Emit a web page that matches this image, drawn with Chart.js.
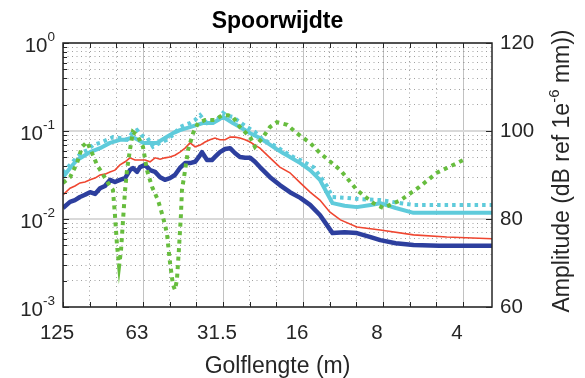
<!DOCTYPE html>
<html>
<head>
<meta charset="utf-8">
<script src="https://cdn.jsdelivr.net/npm/chart.js@4/dist/chart.umd.min.js"></script>
<style>
  html, body { margin: 0; padding: 0; background: #fff; }
</style>
</head>
<body>
<canvas id="chart" width="585" height="378"></canvas>
<script>
// golflengte (m) and amplitude (dB ref 1e-6 mm) per line
const blueLambda = [125, 117.6, 112.7, 107.9, 103.3, 98.9, 94.7, 90.7, 86.9, 83.2, 79.7, 76.3, 73.0, 70.0, 68.2, 65.8, 64.1, 61.4, 58.8, 56.3, 53.9, 51.7, 49.5, 47.4, 45.4, 43.4, 41.6, 39.8, 38.1, 37.5, 35.9, 34.4, 33.5, 32.1, 30.7, 29.4, 28.2, 27.0, 25.8, 24.7, 23.7, 22.7, 20.8, 19.1, 17.5, 16.0, 14.7, 13.5, 12.7, 12.1, 10.9, 9.8, 8.7, 8.0, 7.0, 6.0, 4.8, 3.04];
const blueDb = [82.5, 83.9, 84.3, 85.0, 85.5, 86.1, 85.7, 87.0, 87.5, 88.9, 88.4, 88.9, 89.3, 91.1, 91.6, 90.7, 91.8, 92.3, 91.1, 90.7, 89.5, 88.9, 89.3, 90.0, 91.6, 92.7, 92.7, 93.0, 94.5, 95.2, 93.4, 93.4, 94.1, 95.2, 95.9, 96.1, 95.0, 94.1, 93.9, 93.9, 93.0, 91.8, 89.5, 87.7, 86.1, 84.8, 83.2, 80.9, 78.6, 76.8, 77.0, 76.8, 75.9, 75.2, 74.5, 74.1, 73.9, 73.9];

const redLambda = [125, 117.6, 112.7, 107.9, 103.3, 98.9, 94.7, 90.7, 86.9, 83.2, 79.7, 76.3, 73.0, 70.0, 67.0, 64.1, 61.4, 58.8, 56.3, 53.9, 51.7, 49.5, 47.4, 45.4, 43.4, 41.6, 39.8, 38.1, 36.5, 35.0, 33.5, 32.1, 30.7, 29.4, 28.2, 27.0, 25.8, 24.7, 23.7, 22.7, 20.8, 19.1, 17.5, 16.0, 14.7, 13.5, 12.4, 11.3, 9.8, 8.0, 6.0, 4.5, 3.04];
const redDb = [85.5, 87.0, 87.5, 88.2, 88.4, 88.9, 89.3, 90.0, 90.2, 90.7, 91.1, 92.3, 93.0, 93.9, 93.4, 93.4, 93.4, 93.0, 93.9, 93.6, 93.9, 94.1, 94.5, 95.2, 96.1, 97.3, 96.4, 96.8, 97.5, 98.0, 98.4, 98.0, 98.0, 98.6, 98.6, 98.4, 98.0, 97.5, 96.8, 96.1, 93.9, 91.8, 90.5, 88.2, 86.1, 84.3, 81.6, 79.8, 78.2, 77.5, 76.4, 75.9, 75.5];

const cyanLambda = [125, 117.6, 110.7, 103.3, 98.9, 90.7, 83.2, 76.3, 73.0, 68.2, 65.3, 62.5, 58.8, 55.4, 51.7, 48.2, 45.4, 41.6, 39.1, 37.2, 34.1, 32.6, 31.25, 29.9, 28.7, 27.0, 24.7, 22.7, 21.3, 19.9, 18.6, 17.5, 16.0, 14.7, 13.5, 12.7, 12.1, 10.9, 9.8, 8.7, 8.0, 7.0, 6.0, 4.8, 3.04];
const cyanDb = [89.5, 91.6, 93.4, 94.5, 95.2, 96.1, 97.3, 98.0, 98.0, 98.6, 98.0, 97.3, 97.3, 97.3, 98.4, 99.5, 100.2, 100.9, 101.4, 101.8, 101.8, 102.5, 103.2, 102.5, 101.8, 100.9, 99.5, 98.4, 97.3, 96.1, 95.0, 94.1, 92.7, 91.1, 88.9, 85.9, 83.6, 83.0, 82.7, 83.2, 83.6, 82.5, 81.4, 81.4, 81.4];

const cyanDotLambda = [125, 117.6, 110.7, 105.1, 100.7, 96.4, 90.7, 85.4, 81.1, 76.3, 71.8, 68.7, 65.8, 63.0, 60.4, 57.3, 53.9, 50.8, 48.2, 45.4, 43.4, 41.6, 39.8, 38.1, 36.8, 35.9, 34.4, 32.9, 31.25, 29.9, 28.7, 27.0, 25.4, 23.7, 22.7, 21.2, 19.6, 18.3, 17.0, 16.0, 14.3, 13.5, 12.7, 12.1, 10.7, 9.5, 8.0, 6.7, 6.0, 4.8, 3.04];
const cyanDotDb = [90.5, 92.3, 94.1, 95.2, 95.7, 96.8, 97.3, 98.0, 98.6, 98.4, 98.0, 99.5, 100.2, 98.9, 98.6, 96.4, 97.3, 98.0, 99.1, 100.9, 101.4, 101.8, 102.5, 103.6, 102.5, 101.8, 102.3, 102.5, 104.1, 103.4, 103.2, 102.0, 100.9, 99.8, 98.6, 97.5, 96.4, 95.2, 94.1, 93.4, 91.8, 89.8, 87.5, 85.0, 84.8, 84.5, 84.3, 83.6, 83.2, 83.2, 83.2];

const greenLambda = [125, 117.6, 110.7, 106.0, 101.5, 97.2, 93.1, 89.2, 84.6, 81.1, 79.7, 78.3, 76.9, 75.6, 74.3, 73.0, 71.8, 70.0, 68.2, 65.8, 62.5, 60.4, 57.8, 54.9, 52.6, 50.8, 49.5, 48.2, 47.4, 46.6, 45.8, 45.0, 44.6, 43.4, 42.3, 40.5, 38.8, 36.5, 33.5, 31.5, 29.9, 28.7, 27.0, 24.7, 23.7, 22.1, 20.8, 19.6, 17.9, 16.5, 14.7, 13.5, 11.3, 9.8, 8.5, 7.8, 6.7, 5.7, 4.9, 3.9];
const greenDb = [88.2, 89.5, 92.7, 96.4, 97.5, 95.0, 92.3, 90.5, 88.2, 86.6, 80.9, 74.1, 69.3, 73.0, 79.8, 86.6, 91.1, 95.7, 99.8, 99.1, 96.4, 91.1, 87.3, 84.3, 80.5, 76.8, 70.2, 65.0, 63.9, 66.1, 73.0, 80.9, 86.6, 91.1, 95.7, 99.5, 101.8, 102.5, 102.5, 103.6, 103.6, 103.2, 100.9, 98.6, 96.4, 98.6, 100.9, 102.0, 101.4, 99.5, 97.3, 95.0, 91.1, 86.6, 83.6, 82.5, 84.3, 87.3, 90.5, 93.4];

// axis ticks
const xMajorTicks = [125, 62.5, 31.25, 15.625, 7.8125, 3.90625];
const xTickLabels = ['125', '63', '31.5', '16', '8', '4'];
const xMinorTicks = [99.21, 78.75, 49.61, 39.37, 24.8, 19.69, 12.4, 9.84, 6.2, 4.92];
const yDecades = [1, 0.1, 0.01, 0.001];
const yExponents = ['0', '-1', '-2', '-3'];
const yMinorTicks = [0.002, 0.003, 0.004, 0.005, 0.006, 0.007, 0.008, 0.009,
                     0.02, 0.03, 0.04, 0.05, 0.06, 0.07, 0.08, 0.09,
                     0.2, 0.3, 0.4, 0.5, 0.6, 0.7, 0.8, 0.9];
const dbTicks = [60, 80, 100, 120];

const FONT = "'Liberation Sans', Arial, Helvetica, sans-serif";
const TEXT = '#262626';
const MINOR_GRID = 'rgba(30,30,30,0.42)';

Chart.defaults.font.family = FONT;
Chart.defaults.color = TEXT;

function toPoints(lambda, db) {
    let pts = [];
    for (let i = 0; i < lambda.length; i++) {
        pts.push({ x: lambda[i], y: db[i] });
    }
    return pts;
}

// MATLAB look: box, inward ticks, superscript labels, right label reading upward
const axesDecor = {
    id: 'axesDecor',
    afterDraw(chart) {
        const { ctx, chartArea: a, scales } = chart;
        ctx.save();
        ctx.strokeStyle = TEXT;
        ctx.lineWidth = 1;
        ctx.beginPath();
        xMajorTicks.concat(xMinorTicks).forEach(v => {
            const px = Math.round(scales.x.getPixelForValue(v)) + 0.5;
            ctx.moveTo(px, a.bottom); ctx.lineTo(px, a.bottom - 5);
            ctx.moveTo(px, a.top); ctx.lineTo(px, a.top + 5);
        });
        yDecades.forEach(v => {
            const py = Math.round(scales.y.getPixelForValue(v)) + 0.5;
            ctx.moveTo(a.left, py); ctx.lineTo(a.left + 6, py);
        });
        yMinorTicks.forEach(v => {
            const py = Math.round(scales.y.getPixelForValue(v)) + 0.5;
            ctx.moveTo(a.left, py); ctx.lineTo(a.left + 4, py);
        });
        dbTicks.forEach(v => {
            const py = Math.round(scales.yR.getPixelForValue(v)) + 0.5;
            ctx.moveTo(a.right, py); ctx.lineTo(a.right - 6, py);
        });
        ctx.stroke();

        ctx.lineWidth = 1.5;
        ctx.strokeRect(a.left, a.top, a.right - a.left, a.bottom - a.top);

        // 10^n labels
        ctx.fillStyle = TEXT;
        ctx.textBaseline = 'middle';
        ctx.textAlign = 'left';
        const baseFont = '20.5px ' + FONT;
        const expFont = '13.5px ' + FONT;
        const xEnd = a.left - 8;
        yDecades.forEach((v, i) => {
            const py = scales.y.getPixelForValue(v);
            ctx.font = expFont;
            const ew = ctx.measureText(yExponents[i]).width;
            ctx.font = baseFont;
            const bw = ctx.measureText('10').width;
            ctx.fillText('10', xEnd - ew - bw, py + 3);
            ctx.font = expFont;
            ctx.fillText(yExponents[i], xEnd - ew, py - 6);
        });

        // right axis title
        const parts = [
            { t: 'Amplitude (dB ref 1e', f: '23px ' + FONT, dy: 0 },
            { t: '-6', f: '15px ' + FONT, dy: -8 },
            { t: ' mm))', f: '23px ' + FONT, dy: 0 }
        ];
        let total = 0;
        parts.forEach(p => { ctx.font = p.f; p.w = ctx.measureText(p.t).width; total += p.w; });
        ctx.translate(563, (a.top + a.bottom) / 2 - 4);
        ctx.rotate(-Math.PI / 2);
        let cx = -total / 2;
        parts.forEach(p => {
            ctx.font = p.f;
            ctx.fillText(p.t, cx, p.dy);
            cx += p.w;
        });
        ctx.restore();
    }
};

const lineDefaults = { xAxisID: 'x', yAxisID: 'yR', pointRadius: 0, tension: 0, fill: false };

new Chart(document.getElementById('chart'), {
    type: 'line',
    data: {
        datasets: [
            Object.assign({ label: 'groen', data: toPoints(greenLambda, greenDb), borderColor: '#67bd3e', borderWidth: 4, borderDash: [4, 4.5] }, lineDefaults),
            Object.assign({ label: 'cyaan gestippeld', data: toPoints(cyanDotLambda, cyanDotDb), borderColor: '#5fcbdb', borderWidth: 4, borderDash: [3.5, 4] }, lineDefaults),
            Object.assign({ label: 'cyaan', data: toPoints(cyanLambda, cyanDb), borderColor: '#5fcbdb', borderWidth: 4, borderJoinStyle: 'round' }, lineDefaults),
            Object.assign({ label: 'rood', data: toPoints(redLambda, redDb), borderColor: '#ef4630', borderWidth: 1.6 }, lineDefaults),
            Object.assign({ label: 'blauw', data: toPoints(blueLambda, blueDb), borderColor: '#2d3f9e', borderWidth: 4.5, borderJoinStyle: 'round' }, lineDefaults)
        ]
    },
    options: {
        responsive: false,
        animation: false,
        layout: { padding: 0 },
        plugins: {
            legend: { display: false },
            tooltip: { enabled: false },
            title: {
                display: true,
                text: 'Spoorwijdte',
                fullSize: false,
                color: '#000',
                font: { size: 23, weight: 'bold' },
                padding: { top: 8, bottom: 7.4 }
            }
        },
        scales: {
            x: {
                type: 'logarithmic',
                position: 'bottom',
                reverse: true,
                min: 3.04,
                max: 125,
                afterBuildTicks: s => { s.ticks = xMajorTicks.map(v => ({ value: v })); },
                ticks: {
                    callback: (v, i) => xTickLabels[i],
                    font: { size: 20.5 },
                    padding: 14,
                    maxRotation: 0,
                    autoSkip: false,
                    labelOffset: -6
                },
                grid: { color: '#c2c2c2', lineWidth: 1, drawTicks: false },
                border: { display: false },
                title: { display: true, text: 'Golflengte (m)', font: { size: 23, lineHeight: 1 }, padding: 0 },
                afterFit: s => { s.height = 71; }
            },
            xMinor: {
                type: 'logarithmic',
                axis: 'x',
                position: 'top',
                reverse: true,
                min: 3.04,
                max: 125,
                afterBuildTicks: s => { s.ticks = xMinorTicks.map(v => ({ value: v })); },
                ticks: { display: false },
                grid: { color: MINOR_GRID, lineWidth: 1, drawTicks: false },
                border: { display: false, dash: [1, 3.5] },
                afterFit: s => { s.height = 0; }
            },
            y: {
                type: 'logarithmic',
                position: 'left',
                min: 0.001,
                max: 1,
                afterBuildTicks: s => { s.ticks = yDecades.map(v => ({ value: v })); },
                ticks: { display: false },
                grid: { color: '#d9d9d9', lineWidth: 2, drawTicks: false },
                border: { display: false },
                afterFit: s => { s.width = 63; }
            },
            yMinor: {
                type: 'logarithmic',
                axis: 'y',
                position: 'left',
                min: 0.001,
                max: 1,
                afterBuildTicks: s => { s.ticks = yMinorTicks.map(v => ({ value: v })); },
                ticks: { display: false },
                grid: { color: MINOR_GRID, lineWidth: 1, drawTicks: false },
                border: { display: false, dash: [1, 3.5] },
                afterFit: s => { s.width = 0; }
            },
            yR: {
                type: 'linear',
                axis: 'y',
                position: 'right',
                min: 60,
                max: 120,
                ticks: { stepSize: 20, font: { size: 20.5 }, padding: 8 },
                grid: { display: false, drawTicks: false },
                border: { display: false },
                afterFit: s => { s.width = 93; }
            }
        }
    },
    plugins: [axesDecor]
});
</script>
</body>
</html>
